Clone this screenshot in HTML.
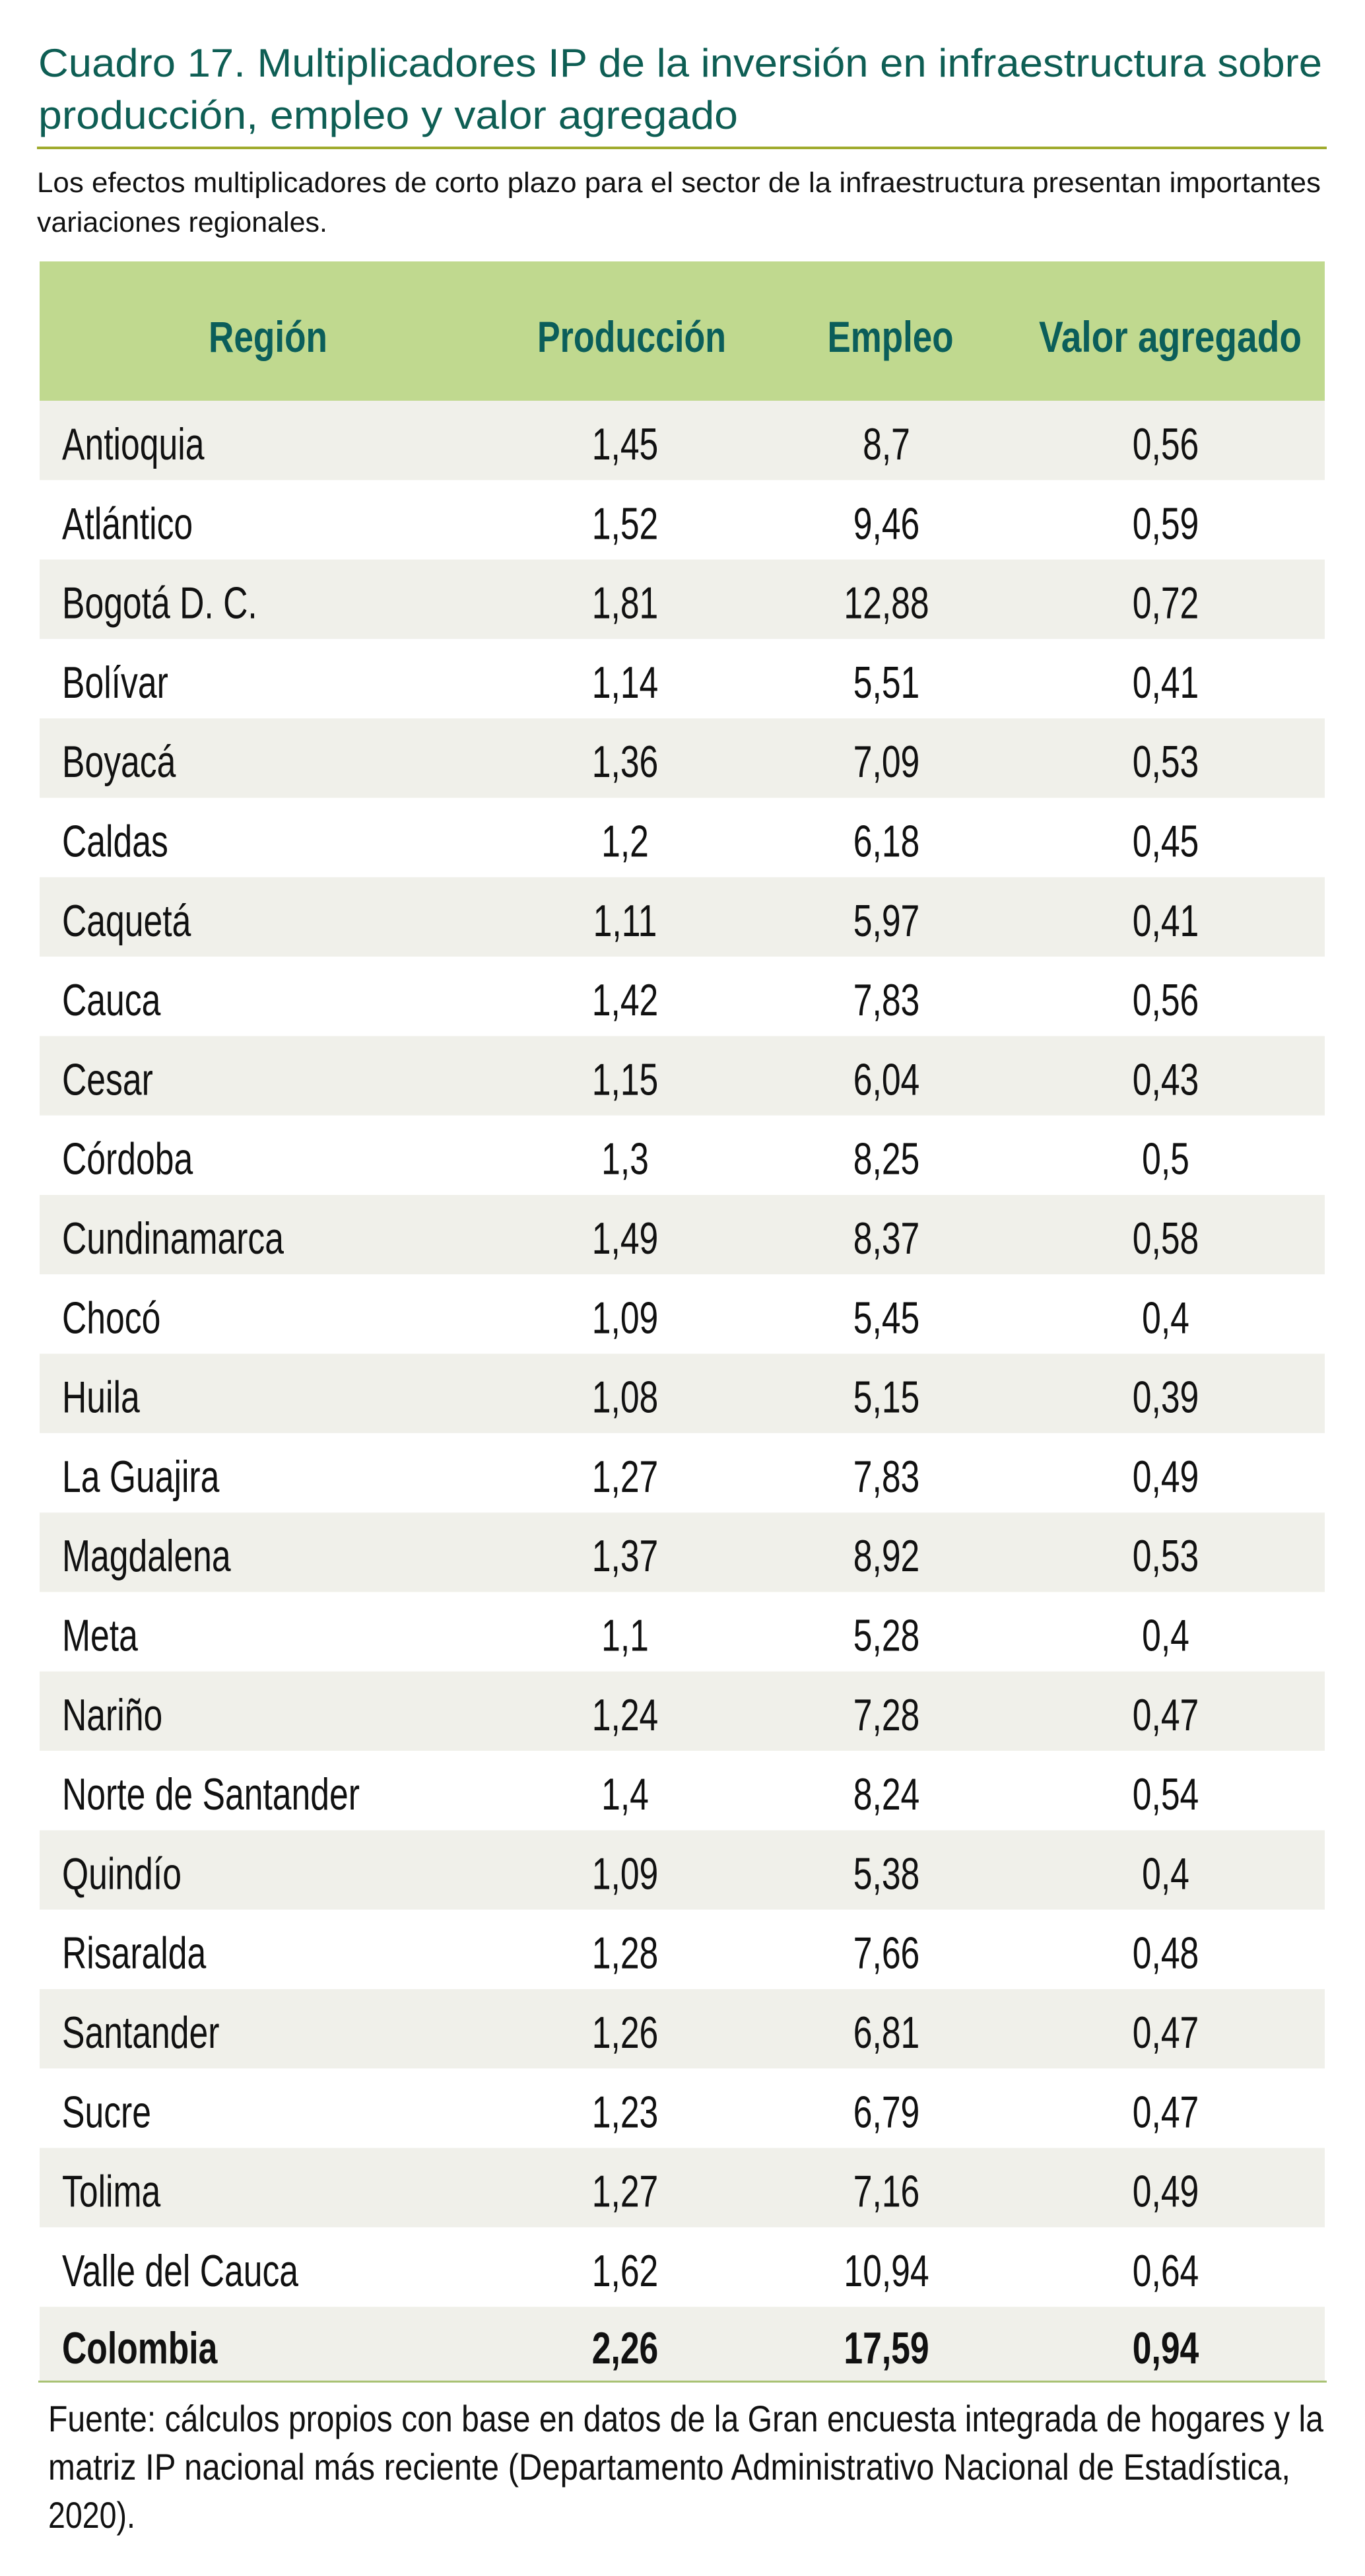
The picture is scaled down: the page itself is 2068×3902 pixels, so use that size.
<!DOCTYPE html>
<html><head><meta charset="utf-8">
<style>
html,body{margin:0;padding:0;background:#fff;}
svg{display:block;}
text{font-family:"Liberation Sans Narrow","Liberation Sans",sans-serif;}
</style></head>
<body>
<svg id="chart" width="2068" height="3902" viewBox="0 0 2068 3902" xmlns="http://www.w3.org/2000/svg">
<rect width="2068" height="3902" fill="#fff"/>
<text x="58" y="116" font-size="60" fill="#0e5e54" textLength="1945" lengthAdjust="spacingAndGlyphs">Cuadro 17. Multiplicadores IP de la inversión en infraestructura sobre</text>
<text x="58" y="195" font-size="60" fill="#0e5e54" textLength="1060" lengthAdjust="spacingAndGlyphs">producción, empleo y valor agregado</text>
<rect x="56" y="222" width="1954" height="4" fill="#a0ab2e"/>
<text x="56" y="291" font-size="43" fill="#111" textLength="1945" lengthAdjust="spacingAndGlyphs">Los efectos multiplicadores de corto plazo para el sector de la infraestructura presentan importantes</text>
<text x="56" y="351" font-size="43" fill="#111" textLength="440" lengthAdjust="spacingAndGlyphs">variaciones regionales.</text>
<rect x="60" y="396" width="1947" height="211" fill="#c0d98f"/>
<g font-weight="bold" font-size="66" fill="#0b5e5a" text-anchor="middle">
<text x="406" y="533" textLength="180" lengthAdjust="spacingAndGlyphs">Región</text>
<text x="957" y="533" textLength="286" lengthAdjust="spacingAndGlyphs">Producción</text>
<text x="1349" y="533" textLength="191" lengthAdjust="spacingAndGlyphs">Empleo</text>
<text x="1773" y="533" textLength="398" lengthAdjust="spacingAndGlyphs">Valor agregado</text>
</g>
<g id="rows"></g>
<rect x="58" y="3606" width="1952" height="3" fill="#a9c274"/>
<g font-size="56" fill="#111">
<text x="73" y="3683" textLength="1932" lengthAdjust="spacingAndGlyphs">Fuente: cálculos propios con base en datos de la Gran encuesta integrada de hogares y la</text>
<text x="73" y="3756" textLength="1882" lengthAdjust="spacingAndGlyphs">matriz IP nacional más reciente (Departamento Administrativo Nacional de Estadística,</text>
<text x="73" y="3829" textLength="132" lengthAdjust="spacingAndGlyphs">2020).</text>
</g>
</svg>
<script>
const regions = ["Antioquia","Atlántico","Bogotá D. C.","Bolívar","Boyacá","Caldas","Caquetá","Cauca","Cesar","Córdoba","Cundinamarca","Chocó","Huila","La Guajira","Magdalena","Meta","Nariño","Norte de Santander","Quindío","Risaralda","Santander","Sucre","Tolima","Valle del Cauca","Colombia"];
const produccion = [1.45,1.52,1.81,1.14,1.36,1.2,1.11,1.42,1.15,1.3,1.49,1.09,1.08,1.27,1.37,1.1,1.24,1.4,1.09,1.28,1.26,1.23,1.27,1.62,2.26];
const empleo = [8.7,9.46,12.88,5.51,7.09,6.18,5.97,7.83,6.04,8.25,8.37,5.45,5.15,7.83,8.92,5.28,7.28,8.24,5.38,7.66,6.81,6.79,7.16,10.94,17.59];
const valorAgregado = [0.56,0.59,0.72,0.41,0.53,0.45,0.41,0.56,0.43,0.5,0.58,0.4,0.39,0.49,0.53,0.4,0.47,0.54,0.4,0.48,0.47,0.47,0.49,0.64,0.94];

const NS = "http://www.w3.org/2000/svg";
const g = document.getElementById("rows");
const top0 = 607, rowH = 120.3, SX = 0.76;
const rowY = i => top0 + i * rowH;
const fmt = v => String(v).replace(".", ",");
function mk(tag, attrs){const e=document.createElementNS(NS,tag);for(const k in attrs)e.setAttribute(k,attrs[k]);return e;}
regions.forEach((r,i)=>{
  const y = rowY(i);
  const last = i === regions.length-1;
  const h = last ? 3606 - y : rowH;
  const bg = mk("rect",{x:60,y:y,width:1947,height:h,fill:(i%2===0)?"#f0f0ea":"#ffffff"});
  
  
  g.appendChild(bg);
  const by = y + (last ? 86 : 89);
  const fw = last ? "bold" : "normal";
  const t = mk("text",{x:0,y:0,transform:`translate(94,${by}) scale(${SX},1)`,"font-size":68,fill:"#111","font-weight":fw});
  t.textContent = r;
  
  
  g.appendChild(t);
  const cols = [[947,produccion[i]],[1343,empleo[i]],[1766,valorAgregado[i]]];
  cols.forEach((c,j)=>{
    const n = mk("text",{x:0,y:0,transform:`translate(${c[0]},${by}) scale(${SX},1)`,"font-size":68,fill:"#111","text-anchor":"middle","font-weight":fw});
    n.textContent = fmt(c[1]);
    
    
    g.appendChild(n);
  });
});
</script>
</body></html>
